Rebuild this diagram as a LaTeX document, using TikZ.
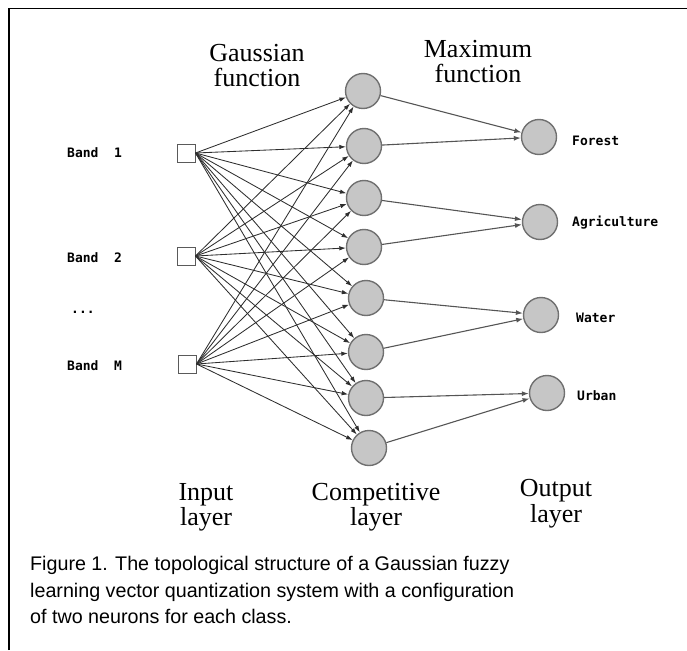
\documentclass[tikz,border=0pt]{standalone}
\usepackage{fontspec}
\setmainfont{Liberation Serif}
\setsansfont{Liberation Sans}
\newfontfamily\bandfont{DejaVu Sans Mono}
\usetikzlibrary{arrows.meta}
\definecolor{nfill}{HTML}{C6C6C6}
\definecolor{nedge}{HTML}{707070}
\definecolor{wire}{HTML}{2E2E2E}
\definecolor{owire}{HTML}{555555}
\begin{document}
\begin{tikzpicture}[x=1pt,y=-1pt,
  neuron/.style={circle, draw=nedge, fill=nfill, line width=1.4pt, minimum size=35pt, inner sep=0pt},
  inbox/.style={rectangle, draw=nedge!80!black, fill=white, line width=1pt, minimum size=18pt, inner sep=0pt},
  conn/.style={draw=wire, line width=0.85pt, -{Latex[length=6.5pt,width=4.5pt]}},
  outconn/.style={draw=owire, line width=1.1pt, -{Latex[length=7pt,width=5pt]}},
  title/.style={font=\fontsize{26}{26}\selectfont, anchor=base, inner sep=0pt},
  lbl/.style={font=\bandfont\bfseries\fontsize{13}{13}\selectfont, anchor=base west, inner sep=0pt, text=black},
  capt/.style={font=\sffamily\fontsize{19.7}{19.7}\selectfont, anchor=base west, inner sep=0pt}]
\useasboundingbox (0,0) rectangle (687,650);
% frame
\draw[line width=1.4pt] (9,650) -- (9,8.5) -- (687,8.5);

% titles
\node[title] (g1) at (257,62) {Gaussian};
\node[title] (g2) at (257,87) {function};
\node[title] (m1) at (478,58) {Maximum};
\node[title] (m2) at (478,83) {function};

% input layer
\node[inbox] (i1) at (186,153) {};
\node[inbox] (i2) at (186,256) {};
\node[inbox] (i3) at (187,364) {};
\node[lbl] (b1) at (67,157) {Band\ \ 1};
\node[lbl] (b2) at (67,262) {Band\ \ 2};
\node[lbl] (bd) at (71,313) {...};
\node[lbl] (b3) at (67,370) {Band\ \ M};

% competitive layer
\node[neuron] (c1) at (363,91) {};
\node[neuron] (c2) at (364,146) {};
\node[neuron] (c3) at (364,198) {};
\node[neuron] (c4) at (364,247) {};
\node[neuron] (c5) at (366,298) {};
\node[neuron] (c6) at (366,352) {};
\node[neuron] (c7) at (366,398) {};
\node[neuron] (c8) at (369,448) {};

% output layer
\node[neuron] (o1) at (539,137) {};
\node[neuron] (o2) at (540,222) {};
\node[neuron] (o3) at (541,315) {};
\node[neuron] (o4) at (547,393) {};
\node[lbl] (l1) at (572,145) {Forest};
\node[lbl] (l2) at (572,226) {Agriculture};
\node[lbl] (l3) at (576,322) {Water};
\node[lbl] (l4) at (577,400) {Urban};

% input -> competitive
\foreach \i in {i1,i2,i3}{
  \foreach \c in {c1,c2,c3,c4,c5,c6,c7,c8}{
    \draw[conn] (\i.east) -- (\c);
  }
}
% competitive -> output
\draw[outconn] (c1) -- (o1);
\draw[outconn] (c2) -- (o1);
\draw[outconn] (c3) -- (o2);
\draw[outconn] (c4) -- (o2);
\draw[outconn] (c5) -- (o3);
\draw[outconn] (c6) -- (o3);
\draw[outconn] (c7) -- (o4);
\draw[outconn] (c8) -- (o4);

% layer labels
\node[title] (ia) at (206,500) {Input};
\node[title] (ib) at (206,525) {layer};
\node[title] (ca) at (376,500) {Competitive};
\node[title] (cb) at (376,525) {layer};
\node[title] (oa) at (556,496) {Output};
\node[title] (ob) at (556,522) {layer};

% caption
\node[capt] (t1) at (30,570) {Figure 1. The topological structure of a Gaussian fuzzy};
\node[capt] (t2) at (30,597) {learning vector quantization system with a configuration};
\node[capt] (t3) at (30,623) {of two neurons for each class.};
\end{tikzpicture}
\end{document}
